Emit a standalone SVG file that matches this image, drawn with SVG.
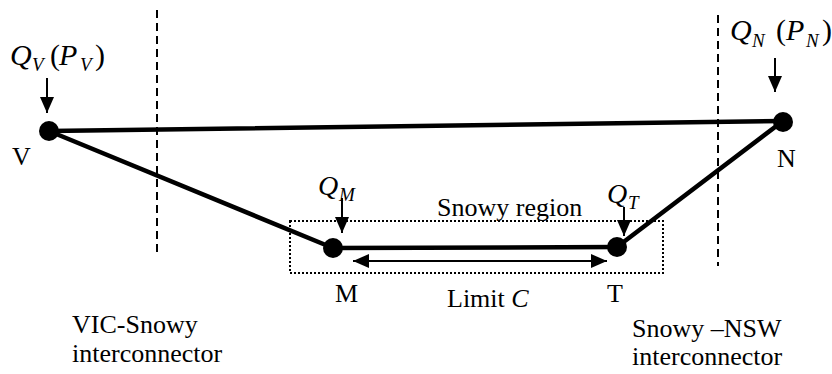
<svg xmlns="http://www.w3.org/2000/svg" width="832" height="374" viewBox="0 0 832 374">
<style>
text{font-family:"Liberation Serif","Times New Roman",Times,"DejaVu Serif",serif;fill:#000}
.lbl{font-size:26px}
.q{font-size:30px;font-style:italic}
.qs{font-size:28px;font-style:italic}
.sub{font-size:19px;font-style:italic}
.par{font-size:30px}
.line{stroke:#000;stroke-width:4.5;fill:none;stroke-linecap:round}
.dash{stroke:#000;stroke-width:2;stroke-dasharray:8 5;fill:none}
.dot{stroke:#000;stroke-width:2;stroke-dasharray:2 2;fill:none}
.arr{stroke:#000;stroke-width:2;fill:none}
.node{fill:#000}
</style>
<defs>
<marker id="ahd" viewBox="0 0 16 14" refX="16" refY="7" markerWidth="16" markerHeight="14" orient="auto-start-reverse" markerUnits="userSpaceOnUse">
<path d="M0,0 L16,7 L0,14 Z" fill="#000"/>
</marker>
<marker id="ahq" viewBox="0 0 16 14" refX="16" refY="7" markerWidth="16" markerHeight="14" orient="auto" markerUnits="userSpaceOnUse">
<path d="M0,0 L16,7 L0,14 Z" fill="#000"/>
</marker>
</defs>
<g id="boundaries">
<line class="dash" x1="157" y1="10" x2="157" y2="252"/>
<line class="dash" x1="718" y1="15" x2="718" y2="266"/>
</g>
<g id="snowy-region" font-family="Liberation Serif, serif">
<rect class="dot" x="290" y="221" width="373" height="52"/>
<text class="lbl" x="437" y="216">Snowy region</text>
</g>
<g id="connectors">
<line class="line" x1="49" y1="131" x2="783" y2="121"/>
<line class="line" x1="49" y1="131" x2="333" y2="248"/>
<line class="line" x1="333" y1="248" x2="617" y2="247"/>
<line class="line" x1="617" y1="247" x2="783" y2="121"/>
<line class="arr" x1="353" y1="261" x2="607" y2="261" marker-start="url(#ahd)" marker-end="url(#ahd)"/>
<line class="arr" x1="47" y1="78" x2="47" y2="113" marker-end="url(#ahq)"/>
<line class="arr" x1="775" y1="58" x2="775" y2="92" marker-end="url(#ahq)"/>
<line class="arr" x1="342" y1="198" x2="342" y2="233" marker-end="url(#ahq)"/>
<line class="arr" x1="624" y1="207" x2="624" y2="236" marker-end="url(#ahq)"/>
</g>
<g id="node-V">
<circle class="node" cx="49" cy="131" r="10"/>
<text class="lbl" x="12" y="165">V</text>
<text class="q" x="10" y="65">Q</text><text class="sub" x="32" y="71">V</text>
<text class="par" x="50" y="65">(</text><text class="q" x="59" y="65">P</text><text class="sub" x="80" y="71">V</text><text class="par" x="95" y="65">)</text>
</g>
<g id="node-N">
<circle class="node" cx="783" cy="122" r="10"/>
<text class="lbl" x="777" y="167">N</text>
<text class="q" x="730" y="40">Q</text><text class="sub" x="752" y="47">N</text>
<text class="par" x="776" y="40">(</text><text class="q" x="786" y="40">P</text><text class="sub" x="806" y="47">N</text><text class="par" x="822" y="40">)</text>
</g>
<g id="node-M">
<circle class="node" cx="333" cy="248" r="10"/>
<text class="lbl" x="335" y="302">M</text>
<text class="qs" x="318" y="195">Q</text><text class="sub" x="339" y="201">M</text>
</g>
<g id="node-T">
<circle class="node" cx="617" cy="247" r="10"/>
<text class="lbl" x="607" y="302">T</text>
<text class="qs" x="607" y="203">Q</text><text class="sub" x="628" y="209">T</text>
</g>
<g id="limit">
<text class="lbl" x="447" y="307">Limit <tspan font-style="italic">C</tspan></text>
</g>
<g id="interconnector-labels">
<text class="lbl" x="72" y="333">VIC-Snowy</text>
<text class="lbl" x="72" y="362">interconnector</text>
<text class="lbl" x="632" y="337">Snowy –NSW</text>
<text class="lbl" x="632" y="365">interconnector</text>
</g>
</svg>
